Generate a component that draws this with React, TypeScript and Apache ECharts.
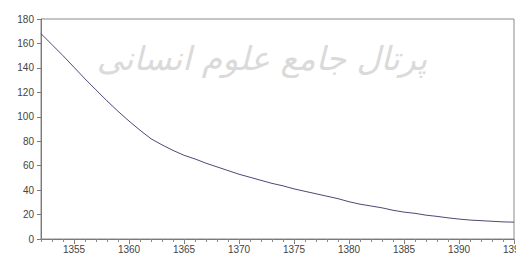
import React, { useEffect, useRef } from "react";
import * as echarts from "echarts";

const years: string[] = [
  "1352","1353","1354","1355","1356","1357","1358","1359","1360","1361",
  "1362","1363","1364","1365","1366","1367","1368","1369","1370","1371",
  "1372","1373","1374","1375","1376","1377","1378","1379","1380","1381",
  "1382","1383","1384","1385","1386","1387","1388","1389","1390","1391",
  "1392","1393","1394","1395",
];
const values: number[] = [
  168, 159, 150, 140.5, 131, 122, 113, 104.5, 96.5, 89,
  82, 77, 72.5, 68.5, 65.5, 62, 59, 56, 53, 50.5,
  48, 45.5, 43.5, 41, 39, 37, 35, 33, 30.5, 28.5,
  27, 25.5, 23.5, 22, 21, 19.5, 18.5, 17.3, 16.3, 15.5,
  15, 14.5, 14, 13.8,
];
const yMin = 0;
const yMax = 180;
const yStep = 20;
const watermark = "پرتال جامع علوم انسانی";

export default function App() {
  const ref = useRef<HTMLDivElement>(null);
  useEffect(() => {
    if (!ref.current) return;
    const chart = echarts.init(ref.current, null, { renderer: "svg" });
    const isMajor = (_i: number, v: string) => Number(v) % 5 === 0;
    chart.setOption({
      animation: false,
      backgroundColor: "#ffffff",
      grid: {
        left: 41,
        right: 2,
        top: 19,
        bottom: 18,
        outerBoundsMode: "none",
        containLabel: false,
        show: true,
        borderColor: "#8a8a8a",
        borderWidth: 1,
        backgroundColor: "transparent",
      },
      graphic: [
        {
          type: "text",
          x: 262,
          y: 58,
          z: -10,
          silent: true,
          style: {
            text: watermark,
            fill: "#dadada",
            font: "italic 33px 'DejaVu Sans'",
            align: "center",
            verticalAlign: "middle",
          },
        },
      ],
      xAxis: [
        {
          type: "category",
          data: years,
          boundaryGap: false,
          axisLine: { show: true, lineStyle: { color: "#7a7a7a", width: 1 } },
          axisTick: {
            show: true,
            interval: isMajor,
            length: 5,
            lineStyle: { color: "#7a7a7a" },
          },
          axisLabel: {
            interval: isMajor,
            color: "#444",
            fontSize: 10,
            fontFamily: "Liberation Sans",
            margin: 5,
          },
          splitLine: { show: false },
        },
        {
          type: "category",
          data: years,
          boundaryGap: false,
          position: "bottom",
          axisLine: { show: false },
          axisTick: {
            show: true,
            interval: 0,
            length: 3,
            lineStyle: { color: "#8a8a8a" },
          },
          axisLabel: { show: false },
          splitLine: { show: false },
        },
      ],
      yAxis: {
        type: "value",
        min: yMin,
        max: yMax,
        interval: yStep,
        axisLine: { show: true, lineStyle: { color: "#7a7a7a", width: 1 } },
        axisTick: { show: true, length: 4, lineStyle: { color: "#7a7a7a" } },
        axisLabel: {
          color: "#444",
          fontSize: 10,
          fontFamily: "Liberation Sans",
          margin: 7,
        },
        splitLine: { show: false },
      },
      series: [
        {
          type: "line",
          data: values,
          xAxisIndex: 0,
          showSymbol: false,
          smooth: false,
          lineStyle: { color: "#4a4a78", width: 1 },
          z: 5,
        },
      ],
    });
    return () => chart.dispose();
  }, []);
  return (
    <div
      ref={ref}
      style={{ position: "absolute", left: 0, top: 0, width: 516, height: 257 }}
    />
  );
}
